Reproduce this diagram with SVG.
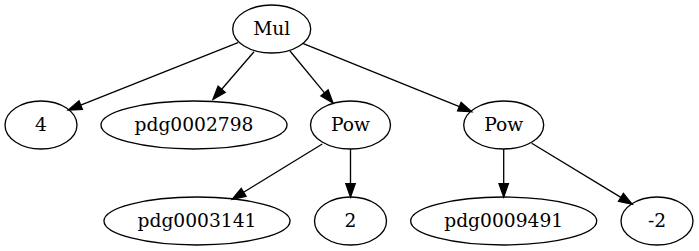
<svg xmlns="http://www.w3.org/2000/svg" width="699" height="251" viewBox="0 0 699 251">
<style>
ellipse{fill:none;stroke:#000;stroke-width:1.33}
text{font-family:"DejaVu Serif","Liberation Serif",serif;font-size:18.67px;text-anchor:middle;fill:#000}
.e line{stroke:#000;stroke-width:1.33}
.e polygon{fill:#000;stroke:#000;stroke-width:1.33}
</style>
<rect width="699" height="251" fill="#fff"/>
<g class="e" id="edges">
<line x1="238" y1="42.7" x2="80.7" y2="105.1"/><polygon points="68.3,110 82.4,109.4 79,100.8"/>
<line x1="254" y1="51.7" x2="221.7" y2="89.2"/><polygon points="213,99.3 225.2,92.3 218.1,86.2"/>
<line x1="290" y1="51" x2="324.5" y2="92.8"/><polygon points="333,103 328.1,89.8 320.9,95.8"/>
<line x1="302.7" y1="43.3" x2="459.4" y2="106.7"/><polygon points="471.7,111.7 461.1,102.4 457.6,111"/>
<line x1="322.3" y1="144" x2="243.6" y2="192.3"/><polygon points="232.3,199.3 246.1,196.3 241.2,188.4"/>
<line x1="350.5" y1="149" x2="350.5" y2="183.7"/><polygon points="350.5,197 355.2,183.7 345.8,183.7"/>
<line x1="503.7" y1="149" x2="503.7" y2="183.7"/><polygon points="503.7,197 508.4,183.7 499,183.7"/>
<line x1="531.7" y1="143.3" x2="620.9" y2="197.4"/><polygon points="632.3,204.3 623.4,193.4 618.5,201.4"/>
</g>
<g id="mul"><ellipse cx="271.7" cy="29" rx="39" ry="24"/><text x="271.7" y="35">Mul</text></g>
<g id="n4"><ellipse cx="41" cy="125" rx="36" ry="24"/><text x="41" y="131">4</text></g>
<g id="pdg0002798"><ellipse cx="194" cy="125" rx="93" ry="24"/><text x="194" y="131">pdg0002798</text></g>
<g id="pow1"><ellipse cx="350.5" cy="125" rx="40" ry="24"/><text x="350.5" y="131">Pow</text></g>
<g id="pow2"><ellipse cx="503.7" cy="125" rx="40" ry="24"/><text x="503.7" y="131">Pow</text></g>
<g id="pdg0003141"><ellipse cx="197" cy="221" rx="93" ry="24"/><text x="197" y="227">pdg0003141</text></g>
<g id="n2"><ellipse cx="350.5" cy="221" rx="36" ry="24"/><text x="350.5" y="227">2</text></g>
<g id="pdg0009491"><ellipse cx="503.7" cy="221" rx="93" ry="24"/><text x="503.7" y="227">pdg0009491</text></g>
<g id="nm2"><ellipse cx="657" cy="221" rx="36" ry="24"/><text x="657" y="227">-2</text></g>
</svg>
